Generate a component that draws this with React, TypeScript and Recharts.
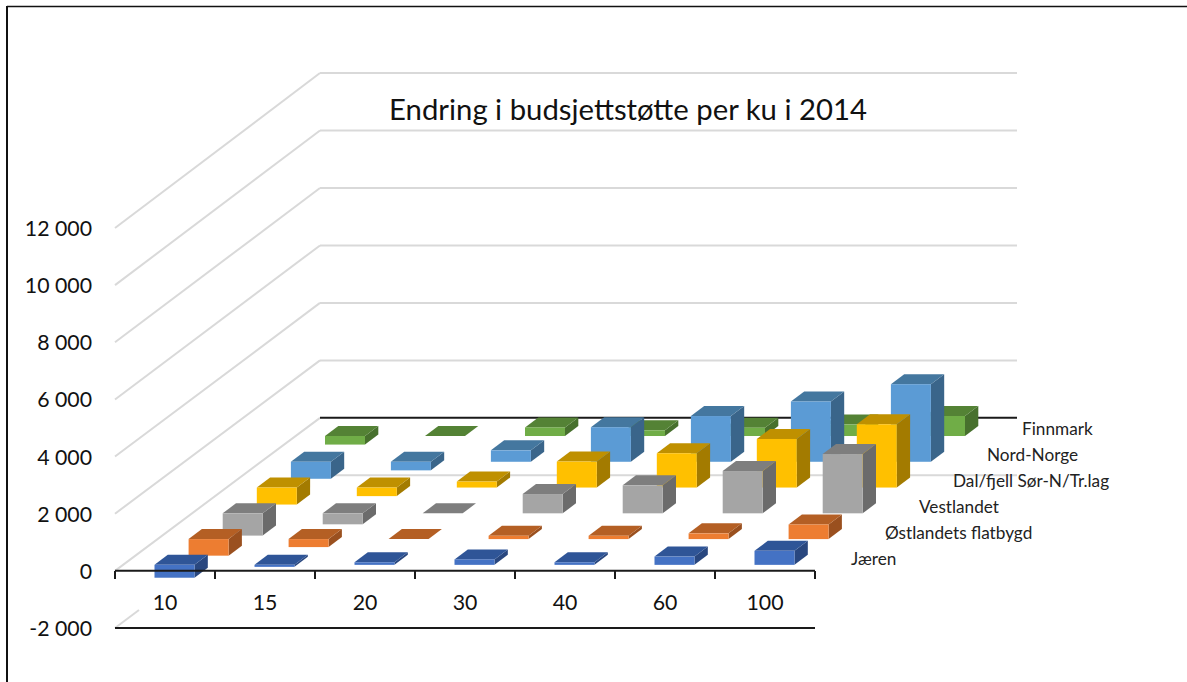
import React from "react";
import { BarChart, Bar, XAxis, YAxis, CartesianGrid, ReferenceLine } from "recharts";

const categories = ["10", "15", "20", "30", "40", "60", "100"];
const jaeren = [-450, -70, 90, 190, 90, 290, 490];
const ostlandet = [-580, -280, 0, 115, 115, 200, 510];
const vestlandet = [-780, -385, 0, 675, 980, 1480, 2075];
const dalFjell = [-595, -300, 210, 910, 1200, 1700, 2215];
const nordNorge = [-595, -300, 400, 1210, 1600, 2110, 2715];
const finnmark = [-300, 0, 300, 200, 290, 400, 700];
const yTicks = [-2000, 0, 2000, 4000, 6000, 8000, 10000, 12000];

const seriesNames = ["Jæren", "Østlandets flatbygd", "Vestlandet", "Dal/fjell Sør-N/Tr.lag", "Nord-Norge", "Finnmark"];
const seriesValues = [jaeren, ostlandet, vestlandet, dalFjell, nordNorge, finnmark];
const faceColors = ["#4472C4", "#ED7D31", "#A5A5A5", "#FFC000", "#5B9BD5", "#70AD47"];
const topColors = ["#2F5597", "#B45F24", "#7E7E7E", "#BF9000", "#44779F", "#548235"];
const sideColors = ["#29477F", "#9A501F", "#6B6B6B", "#A37B00", "#3A658A", "#47702D"];

const data = categories.map((cat, k) => {
  const row: Record<string, string | number> = { cat };
  seriesNames.forEach((n, i) => {
    row[n] = seriesValues[i][k];
  });
  return row;
});

const FONT = "Lato, 'Open Sans', sans-serif";
const SERIES_DX = 34.1;
const SERIES_DY = -25.77;
const BAR_DX = 13.3;
const BAR_DY = -10;
const WALL_DX = 205;
const WALL_DY = -153;
const WALL_RIGHT = 1017;
const GRID = "#D9D9D9";

const makeShape = (i: number) => (props: any) => {
  const x = props.x + 9.5 + SERIES_DX * i;
  const w = props.width;
  const y0 = props.y - 6 + SERIES_DY * i;
  const y1 = y0 + props.height;
  const top = Math.min(y0, y1);
  const bottom = Math.max(y0, y1);
  return (
    <g>
      <polygon
        points={`${x + w},${top} ${x + w + BAR_DX},${top + BAR_DY} ${x + w + BAR_DX},${bottom + BAR_DY} ${x + w},${bottom}`}
        fill={sideColors[i]}
      />
      <polygon
        points={`${x},${top} ${x + BAR_DX},${top + BAR_DY} ${x + w + BAR_DX},${top + BAR_DY} ${x + w},${top}`}
        fill={topColors[i]}
      />
      <rect x={x} y={top} width={w} height={bottom - top} fill={faceColors[i]} />
    </g>
  );
};

const gridLine = (props: any) => {
  const y = props.y1;
  const x = props.x1;
  const front0 = 571;
  const backY = y + WALL_DY - (front0 - y) * 0.0058;
  const backX = x + WALL_DX;
  const isZero = Math.abs(y - front0) < 2;
  const isBottom = y > front0 + 20;
  if (isBottom) {
    return (
      <g key={props.key}>
        <line x1={x} y1={y} x2={x + 24} y2={y - 18} stroke={GRID} strokeWidth={2} />
        <line x1={backX} y1={backY} x2={WALL_RIGHT} y2={backY} stroke={GRID} strokeWidth={2} />
      </g>
    );
  }
  return (
    <g key={props.key}>
      <line x1={x} y1={y} x2={backX} y2={backY} stroke={GRID} strokeWidth={2} />
      <line
        x1={backX}
        y1={backY}
        x2={WALL_RIGHT}
        y2={backY}
        stroke={isZero ? "#1a1a1a" : GRID}
        strokeWidth={2}
      />
    </g>
  );
};

const yTick = (props: any) => {
  const label = String(props.payload.value).replace(/\B(?=(\d{3})+$)/g, " ");
  return (
    <text x={92} y={props.y} textAnchor="end" dominantBaseline="central" fontFamily={FONT} fontSize={21.3} fill="#111">
      {label}
    </text>
  );
};

const xTick = (props: any) => {
  const step = 100;
  const left = props.x - step / 2;
  const right = props.x + step / 2;
  const zeroY = props.y - 57;
  return (
    <g>
      <text x={props.x} y={props.y - 25} dy={-9} textAnchor="middle" dominantBaseline="central" fontFamily={FONT} fontSize={21.3} fill="#111">
        {props.payload.value}
      </text>
      <line x1={left} y1={zeroY} x2={left} y2={zeroY - 8} stroke="#1a1a1a" strokeWidth={2} />
      {props.index === categories.length - 1 ? (
        <line x1={right} y1={zeroY} x2={right} y2={zeroY - 8} stroke="#1a1a1a" strokeWidth={2} />
      ) : null}
    </g>
  );
};

const order = [5, 4, 3, 2, 1, 0];
const labelPos = [
  [851, 558.5],
  [885, 532.5],
  [919, 506.5],
  [953, 480.5],
  [987, 454.5],
  [1022, 428.5],
];

export default function App() {
  return (
    <div style={{ position: "fixed", left: 0, top: 0, width: 1187, height: 682, overflow: "hidden", background: "#fff" }}>
      <BarChart
        width={1187}
        height={682}
        data={data}
        margin={{ left: 55, right: 372, top: 228, bottom: 24 }}
        barSize={40}
      >
        <line x1={7} y1={6} x2={7} y2={682} stroke="#111" strokeWidth={2} />
        <line x1={7} y1={6.5} x2={1187} y2={6.5} stroke="#111" strokeWidth={1.5} />
        <CartesianGrid vertical={false} horizontal={gridLine} syncWithTicks />
        <YAxis
          domain={[-2000, 12000]}
          ticks={yTicks}
          width={60}
          axisLine={false}
          tickLine={false}
          tick={yTick}
          interval={0}
        />
        <XAxis
          dataKey="cat"
          height={30}
          interval={0}
          tickLine={false}
          axisLine={{ stroke: "#1a1a1a", strokeWidth: 2 }}
          tick={xTick}
        />
        {order.map((i) => (
          <XAxis key={`ax${i}`} xAxisId={`s${i}`} dataKey="cat" hide />
        ))}
        {order.map((i) => (
          <Bar
            key={seriesNames[i]}
            xAxisId={`s${i}`}
            dataKey={seriesNames[i]}
            barSize={40}
            isAnimationActive={false}
            shape={makeShape(i)}
          />
        ))}
        <ReferenceLine y={0} stroke="#1a1a1a" strokeWidth={2} />
        <text x={628} y={108} textAnchor="middle" dominantBaseline="central" fontFamily={FONT} fontSize={29.3} fill="#111">
          Endring i budsjettstøtte per ku i 2014
        </text>
        {seriesNames.map((n, i) => (
          <text key={n} x={labelPos[i][0]} y={labelPos[i][1]} dominantBaseline="central" fontFamily={FONT} fontSize={17.2} fill="#222">
            {n}
          </text>
        ))}
      </BarChart>
    </div>
  );
}
